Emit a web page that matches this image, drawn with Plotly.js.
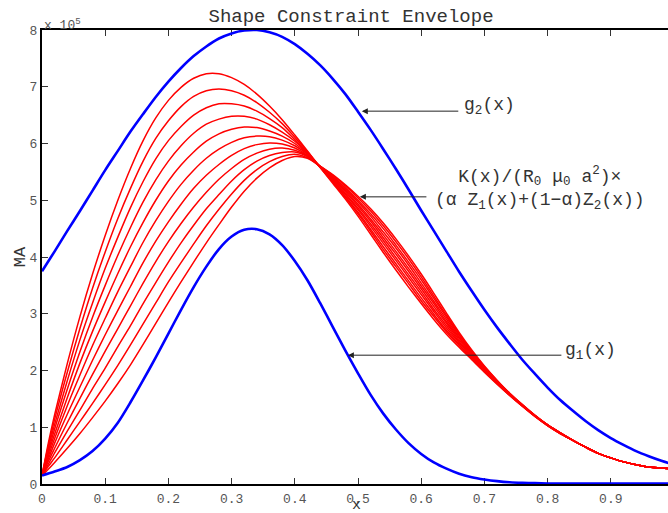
<!DOCTYPE html>
<html>
<head>
<meta charset="utf-8">
<script src="https://cdn.plot.ly/plotly-3.0.1.min.js"></script>
<style>
html,body{margin:0;padding:0;overflow:hidden;background:#fff;}
#chart{width:680px;height:513px;}
</style>
</head>
<body>
<div id="chart"></div>
<script>
// x grid for the red family and the envelope curves
const xRed = [0,0.01,0.02,0.04,0.06,0.08,0.10,0.12,0.14,0.16,0.18,0.20,0.22,0.24,0.26,0.28,0.30,0.32,0.34,0.36,0.38,0.40,0.42,0.44,0.46,0.48,0.50,0.52,0.54,0.56,0.58,0.60,0.62,0.64,0.66,0.68,0.70,0.72,0.74,0.76,0.78,0.80,0.82,0.84,0.86,0.88,0.90,0.92,0.94,0.96,0.98,1.00];
const xEnv = [0,0.02,0.04,0.06,0.08,0.10,0.12,0.14,0.16,0.18,0.20,0.22,0.24,0.26,0.28,0.30,0.32,0.34,0.36,0.38,0.40,0.42,0.44,0.46,0.48,0.50,0.52,0.54,0.56,0.58,0.60,0.62,0.64,0.66,0.68,0.70,0.72,0.74,0.76,0.78,0.80,0.82,0.84,0.86,0.88,0.90,0.92,0.94,0.96,0.98,1.00];

// envelopes (units of 1e5 MA)
const g2 = [3.75,4.10,4.46,4.81,5.17,5.53,5.87,6.21,6.52,6.82,7.09,7.33,7.54,7.71,7.85,7.94,7.99,8.00,7.96,7.88,7.75,7.58,7.38,7.14,6.87,6.56,6.24,5.90,5.55,5.19,4.82,4.46,4.10,3.74,3.40,3.07,2.76,2.47,2.19,1.94,1.70,1.48,1.29,1.11,0.95,0.81,0.69,0.58,0.49,0.41,0.34];
const g1 = [0.15,0.22,0.30,0.42,0.58,0.80,1.08,1.44,1.83,2.23,2.65,3.07,3.47,3.83,4.14,4.36,4.48,4.49,4.40,4.21,3.93,3.59,3.19,2.77,2.35,1.95,1.57,1.24,0.96,0.72,0.53,0.38,0.27,0.18,0.12,0.08,0.05,0.03,0.02,0.015,0.01,0.01,0.01,0.01,0.01,0.01,0.01,0.01,0.01,0.01,0.01];

// red family, alpha = 0 ... 1
const alpha00 = [0.15,0.26,0.38,0.63,0.89,1.17,1.46,1.77,2.10,2.46,2.83,3.20,3.56,3.91,4.25,4.57,4.88,5.16,5.39,5.57,5.70,5.77,5.74,5.60,5.45,5.27,5.07,4.85,4.60,4.32,4.02,3.70,3.36,3.01,2.67,2.36,2.08,1.83,1.60,1.40,1.21,1.04,0.90,0.77,0.65,0.54,0.46,0.39,0.34,0.30,0.28,0.27];
const alpha01 = [0.15,0.31,0.46,0.78,1.10,1.42,1.75,2.09,2.45,2.82,3.19,3.56,3.90,4.23,4.55,4.84,5.11,5.35,5.54,5.68,5.77,5.81,5.75,5.60,5.44,5.25,5.04,4.81,4.55,4.27,3.97,3.65,3.31,2.97,2.64,2.34,2.07,1.82,1.60,1.40,1.21,1.04,0.90,0.77,0.65,0.54,0.46,0.39,0.34,0.30,0.28,0.27];
const alpha02 = [0.15,0.35,0.55,0.93,1.30,1.68,2.04,2.42,2.79,3.18,3.55,3.91,4.25,4.56,4.85,5.10,5.34,5.54,5.69,5.79,5.84,5.85,5.77,5.60,5.42,5.22,5.00,4.76,4.50,4.21,3.91,3.60,3.27,2.94,2.62,2.33,2.06,1.82,1.59,1.39,1.21,1.04,0.90,0.77,0.65,0.54,0.46,0.39,0.34,0.30,0.28,0.27];
const alpha03 = [0.15,0.40,0.63,1.08,1.51,1.93,2.34,2.74,3.14,3.54,3.92,4.27,4.59,4.88,5.14,5.37,5.56,5.72,5.83,5.90,5.92,5.88,5.78,5.59,5.41,5.20,4.97,4.72,4.44,4.16,3.86,3.54,3.22,2.90,2.59,2.31,2.05,1.81,1.59,1.39,1.20,1.04,0.90,0.77,0.65,0.54,0.46,0.39,0.34,0.30,0.28,0.27];
const alpha04 = [0.15,0.44,0.72,1.23,1.71,2.18,2.63,3.06,3.48,3.90,4.28,4.62,4.93,5.21,5.44,5.63,5.79,5.91,5.98,6.01,5.99,5.92,5.79,5.59,5.39,5.17,4.93,4.67,4.39,4.10,3.80,3.49,3.18,2.86,2.57,2.29,2.04,1.80,1.58,1.39,1.20,1.04,0.90,0.77,0.65,0.54,0.46,0.39,0.34,0.30,0.28,0.27];
const alpha05 = [0.15,0.49,0.80,1.38,1.92,2.44,2.92,3.39,3.83,4.26,4.64,4.98,5.28,5.53,5.74,5.90,6.02,6.10,6.13,6.12,6.06,5.96,5.81,5.59,5.38,5.15,4.90,4.63,4.34,4.05,3.75,3.44,3.13,2.83,2.54,2.28,2.03,1.80,1.58,1.39,1.20,1.04,0.90,0.77,0.65,0.54,0.46,0.39,0.34,0.30,0.28,0.27];
const alpha06 = [0.15,0.54,0.88,1.52,2.13,2.69,3.21,3.71,4.18,4.61,5.00,5.34,5.62,5.85,6.04,6.17,6.25,6.29,6.28,6.22,6.13,6.00,5.82,5.59,5.36,5.12,4.86,4.58,4.29,3.99,3.69,3.39,3.08,2.79,2.51,2.26,2.01,1.79,1.58,1.38,1.20,1.04,0.90,0.77,0.65,0.54,0.46,0.39,0.34,0.30,0.28,0.27];
const alpha07 = [0.15,0.58,0.97,1.67,2.33,2.94,3.50,4.03,4.52,4.97,5.36,5.69,5.96,6.18,6.34,6.43,6.48,6.48,6.43,6.33,6.20,6.04,5.83,5.59,5.35,5.10,4.83,4.54,4.24,3.94,3.64,3.34,3.04,2.75,2.49,2.24,2.00,1.78,1.57,1.38,1.20,1.03,0.89,0.77,0.65,0.54,0.46,0.39,0.34,0.30,0.28,0.27];
const alpha08 = [0.15,0.63,1.05,1.82,2.54,3.19,3.80,4.35,4.87,5.33,5.73,6.05,6.30,6.50,6.63,6.70,6.70,6.66,6.57,6.44,6.28,6.07,5.84,5.58,5.33,5.07,4.79,4.49,4.18,3.88,3.58,3.28,2.99,2.71,2.46,2.22,1.99,1.77,1.57,1.38,1.19,1.03,0.89,0.77,0.65,0.54,0.46,0.39,0.34,0.30,0.28,0.27];
const alpha09 = [0.15,0.67,1.14,1.97,2.74,3.45,4.09,4.68,5.21,5.69,6.09,6.40,6.65,6.83,6.93,6.96,6.93,6.85,6.72,6.55,6.35,6.11,5.86,5.58,5.32,5.05,4.76,4.45,4.13,3.83,3.53,3.23,2.95,2.68,2.44,2.21,1.98,1.77,1.56,1.37,1.19,1.03,0.89,0.77,0.65,0.54,0.46,0.39,0.34,0.30,0.28,0.27];
const alpha10 = [0.15,0.72,1.22,2.12,2.95,3.70,4.38,5.00,5.56,6.05,6.45,6.76,6.99,7.15,7.23,7.23,7.16,7.04,6.87,6.66,6.42,6.15,5.87,5.58,5.30,5.02,4.72,4.40,4.08,3.77,3.47,3.18,2.90,2.64,2.41,2.19,1.97,1.76,1.56,1.37,1.19,1.03,0.89,0.77,0.65,0.54,0.46,0.39,0.34,0.30,0.28,0.27];

const xTickVals = [0,0.1,0.2,0.3,0.4,0.5,0.6,0.7,0.8,0.9];
const xTickText = ['0','0.1','0.2','0.3','0.4','0.5','0.6','0.7','0.8','0.9'];
const yTickVals = [0,1,2,3,4,5,6,7,8];
const yTickText = ['0','1','2','3','4','5','6','7','8'];

const family = [alpha00,alpha01,alpha02,alpha03,alpha04,alpha05,alpha06,alpha07,alpha08,alpha09,alpha10];
const FONT = 'Liberation Mono, Courier New, monospace';

const traces = family.map(function(ys, i){
  return {x:xRed, y:ys, type:'scatter', mode:'lines', name:'alpha '+(i/10).toFixed(1),
          line:{color:'#ff0000', width:1.5, shape:'spline', smoothing:0.8}, hoverinfo:'skip'};
});
traces.push({x:xEnv, y:g2, type:'scatter', mode:'lines', name:'g2(x)',
             line:{color:'#0000ff', width:2.6, shape:'spline', smoothing:0.8}, hoverinfo:'skip'});
traces.push({x:xEnv, y:g1, type:'scatter', mode:'lines', name:'g1(x)',
             line:{color:'#0000ff', width:2.6, shape:'spline', smoothing:0.8}, hoverinfo:'skip'});

const axisCommon = {showgrid:false, zeroline:false, showline:true, linecolor:'#000', linewidth:2,
  ticks:'inside', ticklen:6, tickwidth:1, tickcolor:'#333', mirror:'ticks', layer:'below traces',
  tickfont:{family:FONT, size:13, color:'#555'}};

const layout = {
  width:680, height:513,
  margin:{l:42, r:6, t:30, b:29},
  paper_bgcolor:'#fff', plot_bgcolor:'#fff',
  showlegend:false,
  title:{text:'Shape Constraint Envelope', font:{family:FONT, size:19, color:'#333'},
         xref:'paper', x:0.489, xanchor:'center', yref:'container', y:0.971, yanchor:'middle'},
  xaxis:Object.assign({}, axisCommon, {range:[0,1], tickvals:xTickVals, ticktext:xTickText, ticklabelstandoff:1}),
  yaxis:Object.assign({}, axisCommon, {range:[0,8], tickvals:yTickVals, ticktext:yTickText,
         title:{text:'MA', font:{family:FONT, size:17, color:'#333'}, standoff:0}}),
  annotations:[
    {xref:'paper', yref:'paper', x:0.498, y:-0.047, xanchor:'center', yanchor:'middle', showarrow:false,
     text:'x', font:{family:FONT, size:15, color:'#333'}},
    {xref:'paper', yref:'paper', x:0, y:1, xanchor:'left', yanchor:'bottom', yshift:-5, showarrow:false,
     text:'x 10<sup>5</sup>', font:{family:FONT, size:13, color:'#555'}},
    {x:0.506, y:6.57, ax:98, ay:0, text:'', showarrow:true, arrowhead:2, arrowsize:1.2, arrowwidth:1, arrowcolor:'#222'},
    {x:0.503, y:5.06, ax:68, ay:0, text:'', showarrow:true, arrowhead:2, arrowsize:1.2, arrowwidth:1, arrowcolor:'#222'},
    {x:0.484, y:2.27, ax:215, ay:0, text:'', showarrow:true, arrowhead:2, arrowsize:1.2, arrowwidth:1, arrowcolor:'#222'},
    {x:0.665, y:6.66, xanchor:'left', yanchor:'middle', showarrow:false,
     text:'g<sub>2</sub>(x)', font:{family:FONT, size:18, color:'#333'}},
    {x:0.788, y:5.20, xanchor:'center', yanchor:'middle', align:'center', showarrow:false,
     text:'K(x)/(R<sub>0</sub> μ<sub>0</sub> a<sup>2</sup>)×<br>(α Z<sub>1</sub>(x)+(1−α)Z<sub>2</sub>(x))',
     font:{family:FONT, size:18, color:'#333'}},
    {x:0.8244, y:2.33, xanchor:'left', yanchor:'middle', showarrow:false,
     text:'g<sub>1</sub>(x)', font:{family:FONT, size:18, color:'#333'}}
  ]
};

Plotly.newPlot('chart', traces, layout, {staticPlot:true, displayModeBar:false});
</script>
</body>
</html>
